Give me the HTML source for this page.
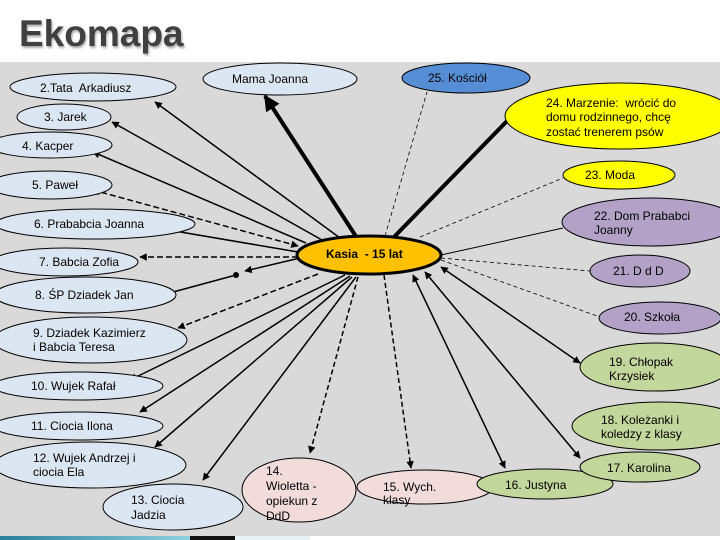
<!DOCTYPE html>
<html><head><meta charset="utf-8"><style>
html,body{margin:0;padding:0;background:#fff;}
svg{display:block;}
text{font-family:"Liberation Sans",Arial,sans-serif;font-size:12px;fill:#000;white-space:pre;}
</style></head><body>
<svg width="720" height="540" viewBox="0 0 720 540" xmlns="http://www.w3.org/2000/svg">
<defs>
<marker id="a" viewBox="0 0 10 10" refX="9" refY="5" markerWidth="5" markerHeight="5" orient="auto-start-reverse"><path d="M0,0 L10,5 L0,10 z" fill="#000"/></marker>
<marker id="b" viewBox="0 0 10 10" refX="9" refY="5" markerWidth="4" markerHeight="4" orient="auto-start-reverse"><path d="M0,0 L10,5 L0,10 z" fill="#000"/></marker>
<marker id="d" viewBox="0 0 10 10" refX="5" refY="5" markerWidth="4" markerHeight="4"><circle cx="5" cy="5" r="5" fill="#000"/></marker>
<linearGradient id="g" x1="0" x2="1"><stop offset="0" stop-color="#2a7f9a"/><stop offset="1" stop-color="#8ed0df"/></linearGradient>
</defs>
<rect x="0" y="62" width="720" height="474" fill="#d9d9d9"/>
<rect x="0" y="536" width="190" height="4" fill="url(#g)"/>
<rect x="190" y="536" width="45" height="4" fill="#111"/>
<rect x="235" y="536" width="75" height="4" fill="#e8f2f4"/>
<text x="19" y="46" style="font-size:37px;font-weight:bold;fill:#404040;filter:drop-shadow(1px 2px 1px #aaa)">Ekomapa</text>

<g stroke="#000" fill="none">
<line x1="357" y1="238" x2="265" y2="96" stroke-width="4" marker-end="url(#b)"/>
<line x1="340" y1="238" x2="155" y2="102" stroke-width="1.5" marker-end="url(#a)"/>
<line x1="322" y1="240" x2="112" y2="122" stroke-width="1.5" marker-end="url(#a)"/>
<line x1="306" y1="243" x2="93" y2="152" stroke-width="1.5" marker-end="url(#a)"/>
<line x1="298" y1="246" x2="93" y2="190" stroke-width="1.5" stroke-dasharray="6,3" marker-start="url(#a)" marker-end="url(#a)"/>
<line x1="298" y1="252" x2="157" y2="228" stroke-width="1.5" marker-end="url(#a)"/>
<line x1="298" y1="257" x2="140" y2="257" stroke-width="1.5" stroke-dasharray="6,3" marker-end="url(#a)"/>
<line x1="162" y1="295" x2="236" y2="275" stroke-width="1.5" marker-end="url(#d)"/>
<line x1="300" y1="258" x2="245" y2="271" stroke-width="1.5" marker-end="url(#a)"/>
<line x1="318" y1="274" x2="178" y2="328" stroke-width="1.5" stroke-dasharray="6,3" marker-end="url(#a)"/>
<line x1="345" y1="275" x2="130" y2="380" stroke-width="1.5" marker-end="url(#a)"/>
<line x1="350" y1="276" x2="140" y2="412" stroke-width="1.5" marker-end="url(#a)"/>
<line x1="352" y1="277" x2="155" y2="447" stroke-width="1.5" marker-end="url(#a)"/>
<line x1="356" y1="277" x2="203" y2="480" stroke-width="1.5" marker-end="url(#a)"/>
<line x1="358" y1="277" x2="310" y2="453" stroke-width="1.5" stroke-dasharray="5,3" marker-end="url(#a)"/>
<line x1="384" y1="275" x2="411" y2="468" stroke-width="1.5" stroke-dasharray="5,3" marker-end="url(#a)"/>
<line x1="413" y1="275" x2="505" y2="468" stroke-width="1.5" marker-start="url(#a)" marker-end="url(#a)"/>
<line x1="425" y1="272" x2="580" y2="458" stroke-width="1.5" marker-start="url(#a)" marker-end="url(#a)"/>
<line x1="441" y1="267" x2="580" y2="363" stroke-width="1.5" marker-start="url(#a)" marker-end="url(#a)"/>
<line x1="441" y1="260" x2="600" y2="317" stroke-width="0.8" stroke-dasharray="4,3"/>
<line x1="441" y1="258" x2="590" y2="271" stroke-width="0.8" stroke-dasharray="4,3"/>
<line x1="441" y1="255" x2="563" y2="228" stroke-width="1"/>
<line x1="420" y1="237" x2="563" y2="178" stroke-width="0.8" stroke-dasharray="4,3"/>
<line x1="393" y1="238" x2="508" y2="120" stroke-width="4"/>
<line x1="385" y1="236" x2="427" y2="92" stroke-width="0.8" stroke-dasharray="4,3"/>
</g>

<g stroke="#000" stroke-width="1">
<ellipse cx="280" cy="79" rx="77" ry="16" fill="#dce6f2"/>
<ellipse cx="93" cy="87" rx="83" ry="14" fill="#dce6f2"/>
<ellipse cx="64" cy="117" rx="47" ry="13" fill="#dce6f2"/>
<ellipse cx="50" cy="145" rx="62" ry="13" fill="#dce6f2"/>
<ellipse cx="50" cy="185" rx="62" ry="14" fill="#dce6f2"/>
<ellipse cx="95" cy="224" rx="100" ry="15" fill="#dce6f2"/>
<ellipse cx="65" cy="262" rx="73" ry="14" fill="#dce6f2"/>
<ellipse cx="85" cy="295" rx="91" ry="18" fill="#dce6f2"/>
<ellipse cx="90" cy="340" rx="97" ry="23" fill="#dce6f2"/>
<ellipse cx="78" cy="386" rx="85" ry="14" fill="#dce6f2"/>
<ellipse cx="78" cy="426" rx="85" ry="14" fill="#dce6f2"/>
<ellipse cx="90" cy="465" rx="96" ry="23" fill="#dce6f2"/>
<ellipse cx="173" cy="507" rx="70" ry="23" fill="#dce6f2"/>
<ellipse cx="299" cy="490" rx="57" ry="32" fill="#f2dcdb"/>
<ellipse cx="425" cy="487" rx="68" ry="17" fill="#f2dcdb"/>
<ellipse cx="545" cy="484" rx="68" ry="15" fill="#c3d69b"/>
<ellipse cx="640" cy="467" rx="60" ry="15" fill="#c3d69b"/>
<ellipse cx="660" cy="426" rx="88" ry="24" fill="#c3d69b"/>
<ellipse cx="655" cy="367" rx="75" ry="24" fill="#c3d69b"/>
<ellipse cx="660" cy="318" rx="61" ry="16" fill="#b3a2c7"/>
<ellipse cx="640" cy="271" rx="50" ry="16" fill="#b3a2c7"/>
<ellipse cx="650" cy="222" rx="88" ry="24" fill="#b3a2c7"/>
<ellipse cx="619" cy="175" rx="56" ry="14" fill="#ffff00"/>
<ellipse cx="620" cy="116" rx="115" ry="33" fill="#ffff00"/>
<ellipse cx="466" cy="78" rx="64" ry="15" fill="#558ed5"/>
<ellipse cx="369" cy="255" rx="72" ry="19" fill="#ffc000" stroke-width="3"/>
</g>

<text x="232" y="83">Mama Joanna</text>
<text x="40" y="92">2.Tata  Arkadiusz</text>
<text x="44" y="121">3. Jarek</text>
<text x="22" y="150">4. Kacper</text>
<text x="32" y="189">5. Paweł</text>
<text x="34" y="228">6. Prababcia Joanna</text>
<text x="39" y="266">7. Babcia Zofia</text>
<text x="35" y="299">8. ŚP Dziadek Jan</text>
<text x="33" y="337">9. Dziadek Kazimierz</text>
<text x="33" y="351">i Babcia Teresa</text>
<text x="31" y="390">10. Wujek Rafał</text>
<text x="31" y="430">11. Ciocia Ilona</text>
<text x="33" y="462">12. Wujek Andrzej i</text>
<text x="33" y="476">ciocia Ela</text>
<text x="131" y="504">13. Ciocia</text>
<text x="131" y="519">Jadzia</text>
<text x="266" y="475">14.</text>
<text x="266" y="490">Wioletta -</text>
<text x="266" y="505">opiekun z</text>
<text x="266" y="520">DdD</text>
<text x="383" y="491">15. Wych.</text>
<text x="383" y="504">klasy</text>
<text x="505" y="489">16. Justyna</text>
<text x="607" y="472">17. Karolina</text>
<text x="601" y="424">18. Koleżanki i</text>
<text x="601" y="438">koledzy z klasy</text>
<text x="609" y="366">19. Chłopak</text>
<text x="609" y="380">Krzysiek</text>
<text x="624" y="321">20. Szkoła</text>
<text x="613" y="275">21. D d D</text>
<text x="594" y="220">22. Dom Prababci</text>
<text x="594" y="234">Joanny</text>
<text x="585" y="179">23. Moda</text>
<text x="546" y="107">24. Marzenie:  wrócić do</text>
<text x="546" y="121">domu rodzinnego, chcę</text>
<text x="546" y="136">zostać trenerem psów</text>
<text x="428" y="82">25. Kościół</text>
<text x="326" y="258" style="font-weight:bold">Kasia  - 15 lat</text>
</svg>
</body></html>
